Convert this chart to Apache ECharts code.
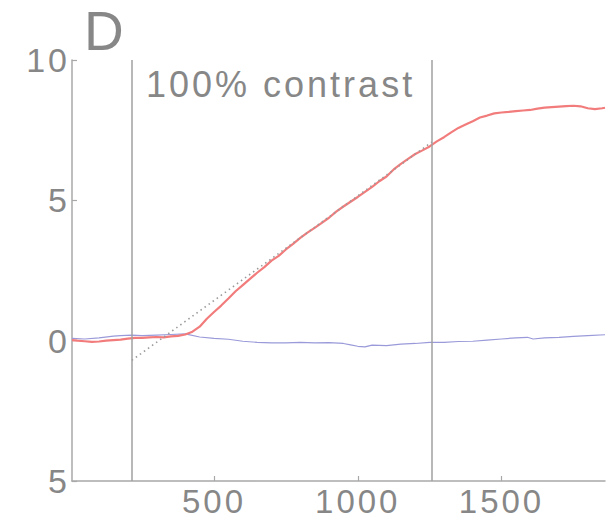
<!DOCTYPE html>
<html>
<head>
<meta charset="utf-8">
<script src="https://cdn.jsdelivr.net/npm/echarts@6/dist/echarts.min.js"></script>
<style>
  html, body { margin: 0; padding: 0; background: #ffffff; }
  #chart { width: 616px; height: 521px; }
  #chart text { letter-spacing: 3px; }
</style>
</head>
<body>
<div id="chart"></div>
<script>
// Time base (ms) and mean eye-position response for the red trace
const timeMs = [6, 25, 50, 75, 100, 125, 150, 175, 200, 225, 250, 275, 300, 325, 350, 375, 400, 425, 450, 475,
  500, 525, 550, 575, 600, 625, 650, 675, 700, 725, 750, 775, 800, 825, 850, 875, 900, 925, 950, 975,
  1000, 1025, 1050, 1075, 1100, 1125, 1150, 1175, 1200, 1225, 1250, 1275, 1300, 1325, 1350, 1375, 1400, 1425, 1450, 1475,
  1500, 1525, 1550, 1575, 1600, 1625, 1650, 1675, 1700, 1725, 1750, 1775, 1800, 1825, 1850, 1860];
const responseRed = [0.02, 0.0, -0.02, -0.04, -0.03, 0.0, 0.02, 0.04, 0.07, 0.1, 0.1, 0.12, 0.13, 0.12, 0.15, 0.17, 0.22, 0.32, 0.5, 0.78,
  1.02, 1.25, 1.5, 1.76, 1.98, 2.2, 2.42, 2.62, 2.85, 3.02, 3.25, 3.45, 3.66, 3.85, 4.02, 4.2, 4.38, 4.6, 4.78, 4.95,
  5.12, 5.3, 5.48, 5.68, 5.85, 6.1, 6.3, 6.48, 6.65, 6.78, 6.92, 7.1, 7.25, 7.42, 7.58, 7.7, 7.82, 7.95, 8.02, 8.1,
  8.13, 8.15, 8.18, 8.2, 8.22, 8.27, 8.3, 8.32, 8.34, 8.36, 8.37, 8.35, 8.28, 8.25, 8.28, 8.3];

// Control (blue) trace
const timeBlue = [6, 50, 100, 150, 175, 214, 250, 300, 350, 400, 450, 500, 550, 600, 650, 700, 750, 800, 850, 900,
  950, 975, 1000, 1025, 1050, 1100, 1150, 1200, 1250, 1300, 1350, 1400, 1450, 1500, 1550, 1590, 1610, 1650, 1700, 1750, 1800, 1860];
const responseBlue = [0.08, 0.06, 0.1, 0.16, 0.18, 0.2, 0.18, 0.2, 0.22, 0.24, 0.13, 0.08, 0.05, -0.02, -0.06, -0.08, -0.08, -0.06, -0.08, -0.07,
  -0.1, -0.15, -0.2, -0.22, -0.16, -0.18, -0.12, -0.1, -0.06, -0.06, -0.03, -0.02, 0.02, 0.06, 0.1, 0.12, 0.06, 0.1, 0.12, 0.15, 0.18, 0.21];

// Linear fit over the open-loop window
const fitTime = [214, 1258];
const fitValue = [-0.7, 7.08];

// Window boundaries (ms)
const windowEdges = [215, 1258];

// Axis ticks
const xTickValues = [500, 1000, 1500];
const xTickLabels = ['500', '1000', '1500'];
const yTickValues = [-5, 0, 5, 10];
const yTickLabels = ['5', '0', '5', '10'];

const panelLetter = 'D';
const conditionLabel = '100% contrast';

const zip = (xs, ys) => xs.map((x, i) => [x, ys[i]]);

const grey = '#878787';
const axisGrey = '#a8a8a8';
const font = '"Liberation Sans", Arial, Helvetica, sans-serif';

const chart = echarts.init(document.getElementById('chart'), null, { renderer: 'svg' });

chart.setOption({
  animation: false,
  backgroundColor: '#ffffff',
  grid: { left: 72, top: 60, right: 11, bottom: 40, containLabel: false },
  xAxis: {
    type: 'value',
    min: 6,
    max: 1860,
    axisLine: { show: true, onZero: false, lineStyle: { color: axisGrey, width: 1.5 } },
    axisTick: { show: true, inside: true, length: 5, customValues: xTickValues, lineStyle: { color: axisGrey, width: 1.2 } },
    axisLabel: {
      customValues: xTickValues, color: grey, fontSize: 33, fontFamily: font, margin: 4,
      formatter: v => xTickLabels[xTickValues.indexOf(v)]
    },
    splitLine: { show: false }
  },
  yAxis: {
    type: 'value',
    min: -5,
    max: 10,
    interval: 5,
    axisLine: { show: true, lineStyle: { color: axisGrey, width: 1.5 } },
    axisTick: { show: true, inside: true, length: 5, lineStyle: { color: axisGrey, width: 1.2 } },
    axisLabel: {
      color: grey, fontSize: 34, fontFamily: font, margin: 2,
      formatter: v => yTickLabels[yTickValues.indexOf(v)]
    },
    splitLine: { show: false }
  },
  graphic: [
    { type: 'text', left: 84, top: 3, style: { text: panelLetter, fill: grey, font: '55px ' + font } },
    { type: 'text', left: 146, top: 66, style: { text: conditionLabel, fill: grey, font: '36px ' + font } }
  ],
  series: [
    {
      type: 'line', data: zip(timeBlue, responseBlue), showSymbol: false, symbol: 'none',
      lineStyle: { color: '#9a9ada', width: 1.2 }, z: 2
    },
    {
      type: 'line', data: zip(timeMs, responseRed), showSymbol: false, symbol: 'none',
      lineStyle: { color: '#f27c7c', width: 2.2 }, z: 3
    },
    {
      type: 'line', data: zip(fitTime, fitValue), showSymbol: false, symbol: 'none',
      lineStyle: { color: '#9a9a9a', width: 1.6, type: [1.5, 3.5] }, z: 4,
      markLine: {
        silent: true, symbol: 'none', label: { show: false },
        lineStyle: { color: '#a0a0a0', width: 1.5, type: 'solid' },
        data: windowEdges.map(x => ({ xAxis: x }))
      }
    }
  ]
});
</script>
</body>
</html>
